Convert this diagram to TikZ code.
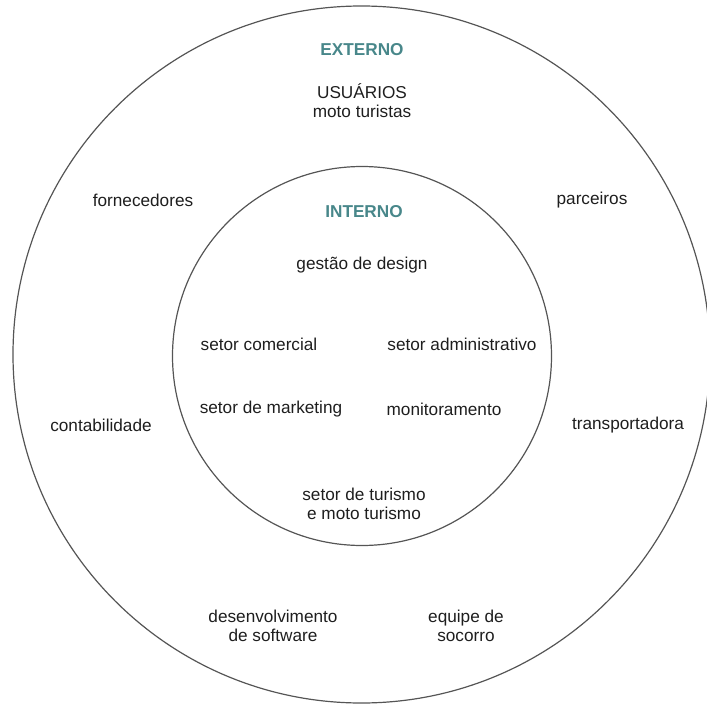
\documentclass[tikz,border=0pt]{standalone}
\usepackage{fontspec}
\setmainfont{Liberation Sans}
\usepackage{xcolor}
\definecolor{titleteal}{RGB}{72,135,138}
\definecolor{ringgray}{RGB}{85,85,85}
\definecolor{textdark}{RGB}{30,30,30}
\usepackage{tikz}
\tikzset{
    common/.style={inner sep=0pt, align=center, text=textdark, font=\fontsize{17.2}{19}\selectfont},
    area/.style={common},
    heading/.style={common, text=titleteal, font=\fontsize{17.2}{19}\selectfont\bfseries},
    ring/.style={draw=ringgray, line width=1.2pt, circle, inner sep=0pt}
}

\begin{document}
\begin{tikzpicture}[x=1pt, y=-1pt]
        \useasboundingbox (0,0) rectangle (707,706);

        % rings
        \node[ring, minimum size=697pt] (outer) at (361.5,354.5) {};
        \node[ring, minimum size=379pt] (inner) at (362,356) {};

        % external side
        \node[heading] (externo) at (362,50) {EXTERNO};
        \node[area] (usuarios) at (362,101) {USUÁRIOS\\moto turistas};
        \node[area] (fornecedores) at (143,200) {fornecedores};
        \node[area] (parceiros) at (592,200) {parceiros};
        \node[area] (contabilidade) at (101,425) {contabilidade};
        \node[area] (transportadora) at (628,425) {transportadora};
        \node[area] (software) at (273,626) {desenvolvimento\\de software};
        \node[area] (socorro) at (466,626) {equipe de\\socorro};

        % internal side
        \node[heading] (interno) at (364,212) {INTERNO};
        \node[area] (design) at (362,265) {gestão de design};
        \node[area] (comercial) at (259,344) {setor comercial};
        \node[area] (administrativo) at (462,344) {setor administrativo};
        \node[area] (marketing) at (271,409) {setor de marketing};
        \node[area] (monitoramento) at (444,409) {monitoramento};
        \node[area] (turismo) at (364,504) {setor de turismo\\e moto turismo};

    \end{tikzpicture}
\end{document}
